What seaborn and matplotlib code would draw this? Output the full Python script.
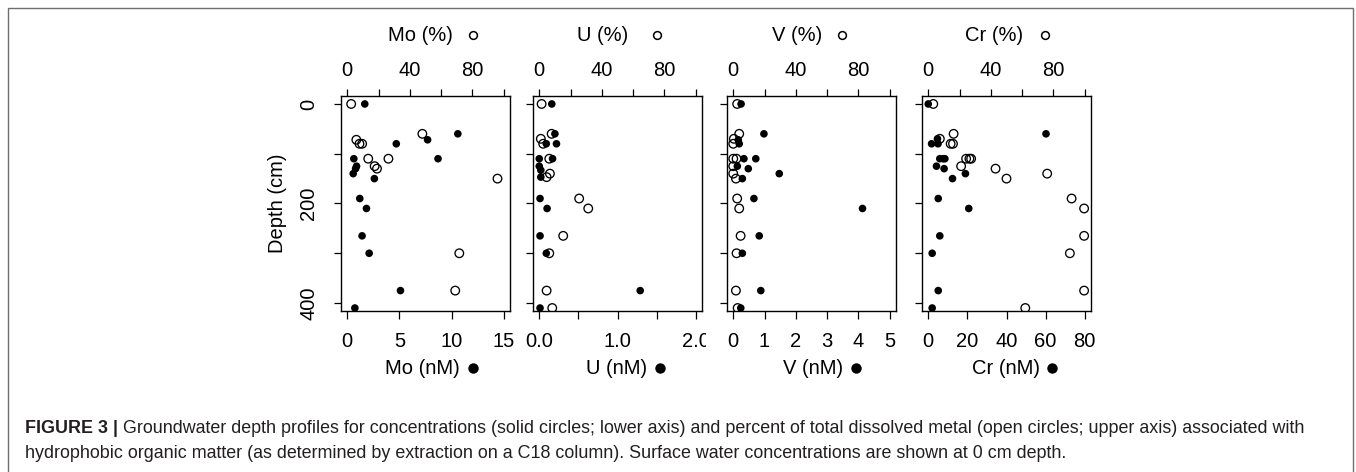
import matplotlib
matplotlib.use("Agg")
import matplotlib.pyplot as plt
from matplotlib import font_manager
from matplotlib.patches import Rectangle
from matplotlib.transforms import Bbox
import pandas as pd
import seaborn as sns

# ---------------- data ----------------
metals = ["Mo", "U", "V", "Cr"]

# Mo: concentration (nM) and percent hydrophobic
mo_nm_depth = [0, 60, 72, 80, 110, 110, 125, 130, 140, 150, 190, 210, 265, 300, 375, 410]
mo_nm = [1.68, 10.6, 7.7, 4.7, 0.63, 8.7, 0.89, 0.8, 0.57, 2.6, 1.2, 1.84, 1.42, 2.1, 5.1, 0.73]
mo_pct_depth = [0, 60, 72, 80, 80, 110, 110, 125, 130, 150, 300, 375]
mo_pct = [2.5, 48, 5.8, 7.8, 9.5, 13.4, 26.3, 17.5, 19, 96, 71.6, 69]

# U
u_nm_depth = [0, 60, 80, 80, 110, 110, 125, 133, 147, 190, 210, 265, 300, 375, 410]
u_nm = [0.16, 0.20, 0.22, 0.09, 0.0, 0.17, 0.0, 0.02, 0.02, 0.01, 0.10, 0.01, 0.09, 1.29, 0.01]
u_pct_depth = [0, 60, 70, 80, 110, 140, 147, 190, 210, 265, 300, 375, 410]
u_pct = [1.5, 7.9, 1.0, 2.5, 6.4, 6.8, 4.7, 25.5, 31.3, 15.3, 6.4, 4.7, 8.3]

# V
v_nm_depth = [0, 60, 72, 80, 110, 110, 125, 130, 140, 150, 190, 210, 265, 300, 375, 410]
v_nm = [0.25, 0.98, 0.16, 0.19, 0.34, 0.72, 0.13, 0.48, 1.47, 0.29, 0.66, 4.13, 0.83, 0.29, 0.88, 0.24]
v_pct_depth = [0, 60, 70, 80, 110, 110, 125, 140, 150, 190, 210, 265, 300, 375, 410]
v_pct = [2.5, 3.8, 0.4, 0.0, 0.0, 2.1, 0.0, 0.0, 1.7, 2.5, 3.8, 4.7, 2.1, 1.7, 2.8]

# Cr
cr_nm_depth = [0, 60, 70, 80, 80, 110, 110, 110, 125, 130, 140, 150, 190, 210, 265, 300, 375, 410]
cr_nm = [0.0, 60.2, 4.7, 1.7, 5.0, 5.9, 7.6, 8.5, 4.2, 8.1, 19.0, 12.4, 5.1, 20.7, 5.9, 2.0, 5.1, 2.0]
cr_pct_depth = [0, 60, 70, 80, 80, 110, 110, 110, 125, 130, 140, 150, 190, 210, 265, 300, 375, 410]
cr_pct = [3.2, 16.2, 7.4, 14.3, 15.8, 24.2, 26.3, 27.4, 21, 43, 76, 50, 91.6, 99.6, 99.6, 90.5, 99.6, 62]

# axis scales: lower axis maximum (nM); upper axis runs 0-100 %
nm_max = [15, 2, 5, 80]
nm_ticks = [[0, 5, 10, 15], [0, 0.5, 1.0, 1.5, 2.0], [0, 1, 2, 3, 4, 5], [0, 20, 40, 60, 80]]
nm_ticklabels = [["0", "5", "10", "15"], ["0.0", "", "1.0", "", "2.0"],
                 ["0", "1", "2", "3", "4", "5"], ["0", "20", "40", "60", "80"]]
pct_ticks = [0, 20, 40, 60, 80, 100]
pct_ticklabels = ["0", "", "40", "", "80", ""]
depth_ticks = [0, 100, 200, 300, 400]
depth_ticklabels = ["0", "", "200", "", "400"]

caption_bold = "FIGURE 3 |"
caption_line1 = ("Groundwater depth profiles for concentrations (solid circles; lower axis) and "
                 "percent of total dissolved metal (open circles; upper axis) associated with")
caption_line2 = ("hydrophobic organic matter (as determined by extraction on a C18 column). "
                 "Surface water concentrations are shown at 0 cm depth.")

series = {
    "Mo": (mo_nm_depth, mo_nm, mo_pct_depth, mo_pct),
    "U": (u_nm_depth, u_nm, u_pct_depth, u_pct),
    "V": (v_nm_depth, v_nm, v_pct_depth, v_pct),
    "Cr": (cr_nm_depth, cr_nm, cr_pct_depth, cr_pct),
}

# ---------------- style ----------------
sns.set_theme(style="ticks")
plt.rcParams["font.family"] = ["Liberation Sans", "DejaVu Sans"]
for key in ["text.color", "axes.labelcolor", "xtick.color", "ytick.color", "axes.edgecolor"]:
    plt.rcParams[key] = "black"

installed = {f.name for f in font_manager.fontManager.ttflist}
cap_font = ["Liberation Sans Narrow"] if "Liberation Sans Narrow" in installed else ["Liberation Sans"]
cap_font = cap_font + ["DejaVu Sans"]

W, H = 1356, 472
fig = plt.figure(figsize=(W / 100, H / 100), dpi=100)
fig.patch.set_facecolor("white")

# full-figure pixel canvas for frame, labels and caption
bg = fig.add_axes([0, 0, 1, 1], zorder=-1)
bg.set_xlim(0, W)
bg.set_ylim(H, 0)
bg.axis("off")
bg.add_patch(Rectangle((8, 8), 1345, 500, fill=False, edgecolor="#6e6e6e", linewidth=1.0))

panel_left = [341, 533, 727, 922]
panel_w, panel_top, panel_bottom = 169, 96, 311
fs = 14.5
tick_len = 5.4

title_text_right = [27.5, 10.5, 10.5, 16.5]
title_marker = [47.5, 39.5, 30.5, 38.5]
xlab_text_right = [34.5, 29.5, 31.5, 33.5]
xlab_marker = [47.5, 42.5, 44.5, 45.5]

for i, metal in enumerate(metals):
    nm_depth, nm, pct_depth, pct = series[metal]
    left = panel_left[i]
    ax = fig.add_axes([left / W, (H - panel_bottom) / H, panel_w / W,
                       (panel_bottom - panel_top) / H])

    df_nm = pd.DataFrame({"conc": nm, "depth": nm_depth})
    sns.scatterplot(data=df_nm, x="conc", y="depth", ax=ax, color="black",
                    edgecolor="none", linewidth=0, s=30, zorder=3)

    ax2 = ax.twiny()
    df_pct = pd.DataFrame({"pct": pct, "depth": pct_depth})
    sns.scatterplot(data=df_pct, x="pct", y="depth", ax=ax2, color="black",
                    facecolor="none", edgecolor="black", linewidth=0.95, s=38, zorder=3)

    pad = 0.04 * nm_max[i]
    ax.set_xlim(-pad, nm_max[i] + pad)
    ax2.set_xlim(-4, 104)
    ax.set_ylim(416, -16)

    ax.set_xlabel("")
    ax.set_ylabel("")
    ax2.set_xlabel("")
    ax2.set_ylabel("")

    ax.set_xticks(nm_ticks[i])
    ax.set_xticklabels(nm_ticklabels[i])
    ax.set_yticks(depth_ticks)
    ax.set_yticklabels(depth_ticklabels)
    ax2.set_xticks(pct_ticks)
    ax2.set_xticklabels(pct_ticklabels)

    ax.tick_params(axis="x", bottom=True, top=False, direction="out", length=tick_len,
                   width=0.9, pad=9.5, labelsize=fs, colors="black")
    ax.tick_params(axis="y", left=True, right=False, direction="out", length=tick_len,
                   width=0.9, pad=14, labelsize=fs, colors="black", labelleft=(i == 0))
    ax2.tick_params(axis="x", top=True, bottom=False, labeltop=True, labelbottom=False,
                    direction="out", length=tick_len, width=0.9, pad=6.0,
                    labelsize=fs, colors="black")

    for sp in ax.spines.values():
        sp.set_visible(True)
        sp.set_color("black")
        sp.set_linewidth(1.0)
    for sp in ax2.spines.values():
        sp.set_visible(False)

    if i == 0:
        for lab in ax.get_yticklabels():
            lab.set_rotation(90)
            lab.set_rotation_mode("anchor")
            lab.set_ha("center")
            lab.set_va("baseline")

    # lower tick labels are clipped at the panel's region
    clip = Bbox.from_extents(0, 0, left + panel_w + 4, H)
    for lab in ax.get_xticklabels():
        lab.set_clip_box(clip)
        lab.set_clip_on(True)

    cx = left + panel_w / 2
    bg.text(cx + title_text_right[i], 41, f"{metal} (%)", ha="right", va="baseline",
            fontsize=fs)
    bg.plot([cx + title_marker[i]], [35], marker="o", ms=5.6, mfc="none",
            mec="black", mew=1.1, linestyle="none")
    bg.text(cx + xlab_text_right[i], 374, f"{metal} (nM)", ha="right", va="baseline",
            fontsize=fs)
    bg.plot([cx + xlab_marker[i]], [368], marker="o", ms=7.5, mfc="black",
            mec="black", mew=0, linestyle="none")

bg.text(283, (panel_top + panel_bottom) / 2, "Depth (cm)", rotation=90,
        rotation_mode="anchor", ha="center", va="baseline", fontsize=fs)

# caption, sized to span the text block width
renderer = fig.canvas.get_renderer()
probe = bg.text(0, 0, caption_line2, fontsize=12, family=cap_font)
line2_w = probe.get_window_extent(renderer).width
probe.remove()
cap_fs = 12 * 1067 / line2_w * 0.98

cap_color = "#231f20"
bold = bg.text(25, 433, caption_bold, fontsize=cap_fs, family=cap_font,
               weight="bold", va="baseline", color=cap_color)
bold_w = bold.get_window_extent(renderer).width
bg.text(25 + bold_w, 433, " " + caption_line1, fontsize=cap_fs, family=cap_font,
        va="baseline", color=cap_color)
bg.text(25, 458, caption_line2, fontsize=cap_fs, family=cap_font,
        va="baseline", color=cap_color)

fig.savefig("out.png", dpi=100, facecolor="white")
